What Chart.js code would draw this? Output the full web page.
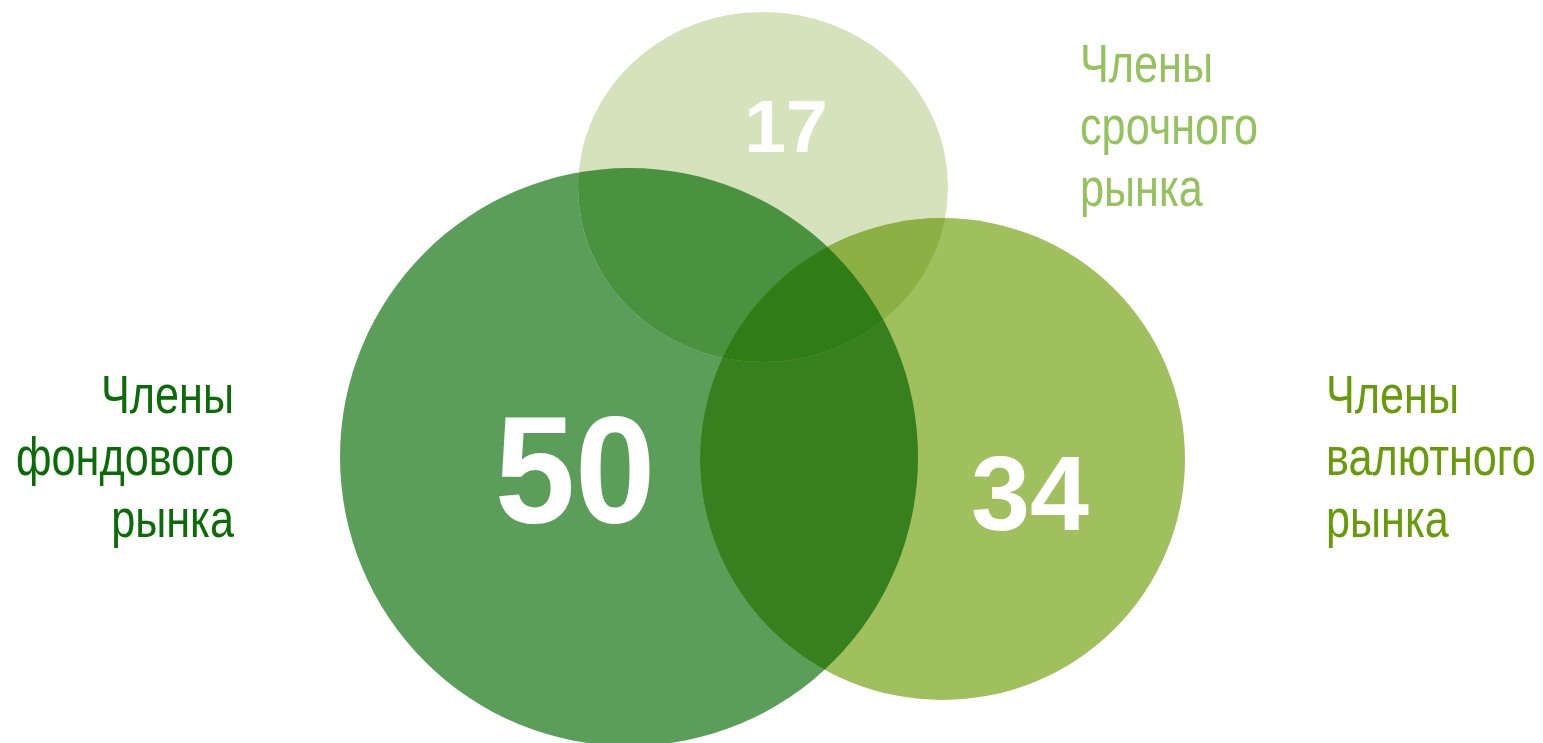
<!DOCTYPE html>
<html>
<head>
<meta charset="utf-8">
<script src="https://cdn.jsdelivr.net/npm/chart.js@4.4.1/dist/chart.umd.min.js"></script>
<style>
html,body{margin:0;padding:0;background:#fff;overflow:hidden;}
#wrap{width:1543px;height:743px;position:relative;}
</style>
</head>
<body>
<div id="wrap"><canvas id="c" width="1543" height="743"></canvas></div>
<script>
// ---- data ----
const categories = ['Члены фондового рынка', 'Члены срочного рынка', 'Члены валютного рынка'];
const counts = [50, 17, 34];
const labelLines = [['Члены', 'фондового', 'рынка'], ['Члены', 'срочного', 'рынка'], ['Члены', 'валютного', 'рынка']];
const fillColors = ['#5b9e5a', '#d6e2bc', '#a0bf5d'];
const textColors = ['#0b6b06', '#94c25c', '#679c08'];
// overlap colours: [0,1] [0,2] [1,2] and all three
const pairColors = {'0-1': '#4a9140', '0-2': '#387f1f', '1-2': '#8db044'};
const tripleColor = '#307c16';

// ---- layout (positions in axis units, x: 0..1543, y: 0..743 top-down) ----
const circleCenters = [{x: 629, y: 457}, {x: 763, y: 187}, {x: 942.5, y: 459}];
const circleRadii = [{rx: 289, ry: 289}, {rx: 185, ry: 175}, {rx: 242.5, ry: 241}];
const numberPos = [{x: 575, y: 523, size: 152, sx: 0.95}, {x: 786, y: 152, size: 75, sx: 1}, {x: 1030, y: 530, size: 106, sx: 1}];
const labelPos = [{x: 234, y: 413, align: 'right'}, {x: 1080, y: 82, align: 'left'}, {x: 1326, y: 413, align: 'left'}];
const labelFont = 54, labelLineH = 62;
const labelRefWord = 'фондового', labelRefWidth = 218; // condensed face emulation
const FONT = '"Liberation Sans", Arial, sans-serif';

function ellipsePath(ctx, e) {
  ctx.beginPath();
  ctx.ellipse(e.cx, e.cy, e.rx, e.ry, 0, 0, Math.PI * 2);
}

const vennPlugin = {
  id: 'venn',
  beforeDatasetsDraw(chart) {
    const ctx = chart.ctx, xs = chart.scales.x, ys = chart.scales.y;
    const els = chart.data.datasets.map(ds => {
      const p = ds.data[0];
      const cx = xs.getPixelForValue(p.x), cy = ys.getPixelForValue(p.y);
      return {cx, cy,
        rx: Math.abs(xs.getPixelForValue(p.x + p.rx) - cx),
        ry: Math.abs(ys.getPixelForValue(p.y + p.ry) - cy),
        color: ds.backgroundColor};
    });
    ctx.save();
    els.forEach(e => { ellipsePath(ctx, e); ctx.fillStyle = e.color; ctx.fill(); });
    Object.keys(pairColors).forEach(k => {
      const [a, b] = k.split('-').map(Number);
      ctx.save();
      ellipsePath(ctx, els[a]); ctx.clip();
      ellipsePath(ctx, els[b]); ctx.fillStyle = pairColors[k]; ctx.fill();
      ctx.restore();
    });
    ctx.save();
    ellipsePath(ctx, els[0]); ctx.clip();
    ellipsePath(ctx, els[1]); ctx.clip();
    ellipsePath(ctx, els[2]); ctx.fillStyle = tripleColor; ctx.fill();
    ctx.restore();
    ctx.restore();
  },
  afterDatasetsDraw(chart) {
    const ctx = chart.ctx, xs = chart.scales.x, ys = chart.scales.y;
    ctx.save();
    ctx.textBaseline = 'alphabetic';
    counts.forEach((v, i) => {
      const np = numberPos[i];
      ctx.save();
      ctx.font = 'bold ' + np.size + 'px ' + FONT;
      ctx.fillStyle = '#ffffff';
      ctx.textAlign = 'center';
      ctx.translate(xs.getPixelForValue(np.x), ys.getPixelForValue(np.y));
      ctx.scale(np.sx, 1);
      ctx.fillText(String(v), 0, 0);
      ctx.restore();
    });
    ctx.font = labelFont + 'px ' + FONT;
    const sx = labelRefWidth / ctx.measureText(labelRefWord).width;
    labelLines.forEach((lines, i) => {
      const lp = labelPos[i];
      ctx.fillStyle = textColors[i];
      ctx.textAlign = lp.align;
      lines.forEach((t, k) => {
        ctx.save();
        ctx.translate(xs.getPixelForValue(lp.x), ys.getPixelForValue(lp.y + k * labelLineH));
        ctx.scale(sx, 1);
        ctx.fillText(t, 0, 0);
        ctx.restore();
      });
    });
    ctx.restore();
  }
};

new Chart(document.getElementById('c'), {
  type: 'scatter',
  data: {
    datasets: categories.map((c, i) => ({
      label: c,
      data: [{x: circleCenters[i].x, y: circleCenters[i].y, rx: circleRadii[i].rx, ry: circleRadii[i].ry, v: counts[i]}],
      backgroundColor: fillColors[i],
      pointRadius: 0,
      pointHoverRadius: 0
    }))
  },
  options: {
    responsive: false,
    animation: false,
    events: [],
    layout: {padding: 0},
    plugins: {legend: {display: false}, tooltip: {enabled: false}, title: {display: false}},
    scales: {
      x: {type: 'linear', min: 0, max: 1543, display: false},
      y: {type: 'linear', min: 0, max: 743, reverse: true, display: false}
    }
  },
  plugins: [vennPlugin]
});
</script>
</body>
</html>
